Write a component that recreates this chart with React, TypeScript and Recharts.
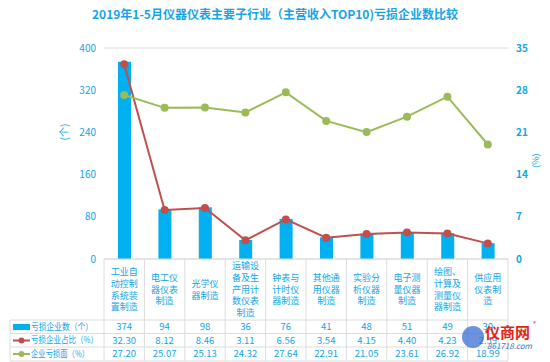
import React from 'react';
import {
  ComposedChart,
  Bar,
  Line,
  XAxis,
  YAxis,
  CartesianGrid,
} from 'recharts';

// data
const categories = [
  '工业自动控制系统装置制造',
  '电工仪器仪表制造',
  '光学仪器制造',
  '运输设备及生产用计数仪表制造',
  '钟表与计时仪器制造',
  '其他通用仪器制造',
  '实验分析仪器制造',
  '电子测量仪器制造',
  '绘图、计算及测量仪器制造',
  '供应用仪表制造',
];
const lossCount = [374, 94, 98, 36, 76, 41, 48, 51, 49, 30];
const lossShare = [32.3, 8.12, 8.46, 3.11, 6.56, 3.54, 4.15, 4.4, 4.23, 2.59];
const lossRate = [27.2, 25.07, 25.13, 24.32, 27.64, 22.91, 21.05, 23.61, 26.92, 18.99];
const leftTicks = [0, 80, 160, 240, 320, 400];
const rightTicks = [0, 7, 14, 21, 28, 35];

const seriesNames = ['亏损企业数（个）', '亏损企业占比（%）', '企业亏损面（%）'];
const legendWidths = [62, 67, 58];

const data = categories.map((name, i) => ({
  name,
  count: lossCount[i],
  share: lossShare[i],
  rate: lossRate[i],
}));

const BLUE = '#00b0f0';
const RED = '#c0504d';
const GREEN = '#9bbb59';
const TEXT = '#0fa6ea';
const GRID = '#dcdcdc';
const FONT = '"Noto Sans CJK SC", "Noto Sans", sans-serif';

const PLOT_LEFT = 104;
const PLOT_RIGHT = 508;
const PLOT_BOTTOM = 259;
const BAND = (PLOT_RIGHT - PLOT_LEFT) / categories.length;
const ROWS = [320, 333.5, 347, 361];

function wrap(s: string) {
  const out: string[] = [];
  for (let i = 0; i < s.length; i += 3) out.push(s.slice(i, i + 3));
  return out;
}

const TableTick = (props: any) => {
  const { x, payload } = props;
  const i = categories.indexOf(payload.value);
  const lines = wrap(payload.value);
  const half = BAND / 2;
  const lh = 11.7;
  const mid = (PLOT_BOTTOM + ROWS[0]) / 2;
  const startY = mid - ((lines.length - 1) * lh) / 2 + 3.2;
  const vals = [String(lossCount[i]), lossShare[i].toFixed(2), lossRate[i].toFixed(2)];
  return (
    <g>
      <line x1={x - half} x2={x - half} y1={PLOT_BOTTOM} y2={ROWS[3]} stroke={GRID} />
      {i === categories.length - 1 && (
        <line x1={x + half} x2={x + half} y1={PLOT_BOTTOM} y2={ROWS[3]} stroke={GRID} />
      )}
      {ROWS.map((ry) => (
        <line key={ry} x1={x - half} x2={x + half} y1={ry} y2={ry} stroke={GRID} />
      ))}
      <text textAnchor="middle" fontSize={9} fill={TEXT} fontFamily={FONT}>
        {lines.map((l, k) => (
          <tspan key={k} x={x} y={startY + k * lh}>
            {l}
          </tspan>
        ))}
      </text>
      {vals.map((v, k) => (
        <text
          key={k}
          x={x}
          y={(ROWS[k] + ROWS[k + 1]) / 2 + 3.3}
          textAnchor="middle"
          fontSize={9.5}
          fill={TEXT}
          fontFamily={FONT}
        >
          {v}
        </text>
      ))}
    </g>
  );
};

const LegendColumn = () => (
  <svg
    width={550}
    height={362}
    style={{ position: 'absolute', left: 0, top: 0, pointerEvents: 'none' }}
  >
    <line x1={10} x2={10} y1={ROWS[0]} y2={ROWS[3]} stroke={GRID} />
    {ROWS.map((ry) => (
      <line key={ry} x1={10} x2={PLOT_LEFT} y1={ry} y2={ry} stroke={GRID} />
    ))}
    <rect x={13} y={324} width={17} height={6} fill={BLUE} />
    <line x1={13} x2={30} y1={340.5} y2={340.5} stroke={RED} strokeWidth={2} />
    <circle cx={21.5} cy={340.5} r={3} fill={RED} />
    <line x1={13} x2={30} y1={354} y2={354} stroke={GREEN} strokeWidth={2} />
    <circle cx={21.5} cy={354} r={3} fill={GREEN} />
    {seriesNames.map((n, k) => (
      <text
        key={n}
        x={31}
        y={(ROWS[k] + ROWS[k + 1]) / 2 + 3.2}
        fontSize={9}
        fill={TEXT}
        fontFamily={FONT}
        textLength={legendWidths[k]}
        lengthAdjust="spacingAndGlyphs"
      >
        {n}
      </text>
    ))}
    {/* watermark */}
    <circle cx={473} cy={337} r={11} fill="#3b6fd1" opacity={0.75} />
    <text x={485} y={338} fontSize={15} fontWeight="bold" fill="#e0251b" fontFamily={FONT}>
      仪商网
    </text>
    <text x={533} y={326} fontSize={6} fill="#e0251b" fontFamily={FONT}>
      ®
    </text>
    <text x={487} y={349} fontSize={8} fill="#3b6fd1" fontStyle="italic" fontFamily={FONT}>
      861718.com
    </text>
  </svg>
);

export default function App() {
  return (
    <div
      style={{
        position: 'absolute',
        left: 0,
        top: 0,
        width: 550,
        height: 362,
        background: '#fff',
        fontFamily: FONT,
      }}
    >
      <div
        style={{
          position: 'absolute',
          top: 5,
          left: 0,
          width: 550,
          textAlign: 'center',
          fontSize: 12,
          fontWeight: 'bold',
          color: '#17a3e6',
          zIndex: 2,
        }}
      >
        2019年1-5月仪器仪表主要子行业（主营收入TOP10)亏损企业数比较
      </div>
      <ComposedChart
        width={550}
        height={362}
        data={data}
        margin={{ top: 48, right: 0, bottom: 0, left: 0 }}
      >
        <CartesianGrid vertical={false} stroke={GRID} />
        <XAxis
          dataKey="name"
          height={103}
          interval={0}
          tickLine={false}
          axisLine={{ stroke: GRID }}
          tick={<TableTick />}
        />
        <YAxis
          yAxisId="left"
          width={PLOT_LEFT}
          domain={[0, 400]}
          ticks={leftTicks}
          axisLine={false}
          tickLine={false}
          tickMargin={2}
          tick={{ fontSize: 10, fill: TEXT, fontFamily: FONT }}
          label={{
            value: '(个)',
            angle: -90,
            position: 'insideLeft',
            offset: 64,
            fill: TEXT,
            fontSize: 10,
            dy: -13,
          }}
        />
        <YAxis
          yAxisId="right"
          orientation="right"
          width={550 - PLOT_RIGHT}
          domain={[0, 35]}
          ticks={rightTicks}
          axisLine={false}
          tickLine={false}
          tickMargin={2}
          tick={{ fontSize: 10, fill: TEXT, fontFamily: FONT, fontWeight: 'bold' }}
          label={{
            value: '(%)',
            angle: -90,
            position: 'insideRight',
            offset: 14,
            fill: TEXT,
            fontSize: 9,
          }}
        />
        <Bar yAxisId="left" dataKey="count" fill={BLUE} barSize={13} isAnimationActive={false} />
        <Line
          yAxisId="right"
          dataKey="share"
          stroke={RED}
          strokeWidth={2}
          dot={{ r: 3, fill: RED, stroke: RED }}
          isAnimationActive={false}
        />
        <Line
          yAxisId="right"
          dataKey="rate"
          stroke={GREEN}
          strokeWidth={2}
          dot={{ r: 3, fill: GREEN, stroke: GREEN }}
          isAnimationActive={false}
        />
      </ComposedChart>
      <LegendColumn />
    </div>
  );
}
